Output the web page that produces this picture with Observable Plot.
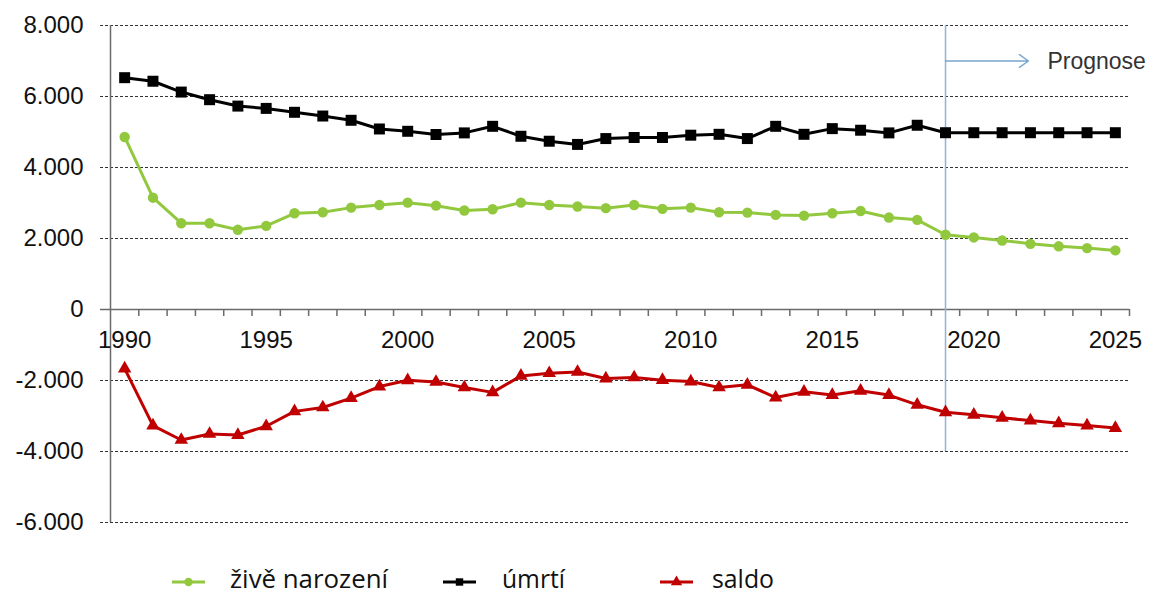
<!DOCTYPE html>
<html><head><meta charset="utf-8">
<script src="https://cdn.jsdelivr.net/npm/d3@7"></script>
<script src="https://cdn.jsdelivr.net/npm/@observablehq/plot@0.6"></script>
<style>
body{margin:0;background:#fff;}
#wrap{position:relative;width:1158px;height:596px;overflow:hidden;background:#fff;}
#legend{position:absolute;left:0;top:550px;}
</style></head><body>
<div id="wrap"><div id="chart"></div><svg id="legend" width="1158" height="46"></svg></div>
<script>
const years = [1990,1991,1992,1993,1994,1995,1996,1997,1998,1999,2000,2001,2002,2003,2004,2005,2006,2007,2008,2009,2010,2011,2012,2013,2014,2015,2016,2017,2018,2019,2020,2021,2022,2023,2024,2025];
const births = [4860,3150,2430,2430,2245,2355,2710,2740,2870,2945,3010,2925,2790,2825,3010,2945,2900,2855,2945,2835,2870,2740,2730,2665,2645,2710,2775,2590,2525,2105,2030,1945,1850,1780,1730,1665];
const deaths = [6530,6430,6125,5910,5730,5665,5555,5450,5330,5085,5020,4930,4975,5160,4880,4740,4650,4815,4845,4845,4910,4935,4815,5160,4935,5095,5050,4975,5190,4980,4980,4980,4980,4980,4980,4980];
const saldo = [-1665,-3270,-3675,-3505,-3535,-3290,-2870,-2760,-2495,-2170,-1995,-2040,-2195,-2335,-1870,-1795,-1760,-1945,-1915,-1990,-2030,-2195,-2120,-2480,-2320,-2410,-2290,-2410,-2685,-2895,-2965,-3050,-3130,-3205,-3270,-3340];
const yTicks = [-6000,-4000,-2000,0,2000,4000,6000,8000];
const xLabels = [1990,1995,2000,2005,2010,2015,2020,2025];
const seriesNames = ["živě narození","úmrtí","saldo"];
const forecastStart = 2019;
const forecastLabel = "Prognose";

const colors = {"živě narození":"#92c83e","úmrtí":"#000000","saldo":"#c00000"};
const symbols = {"živě narození":"circle","úmrtí":"square","saldo":"triangle"};
const radii = {"živě narození":5.2,"úmrtí":6.2,"saldo":5};

const rows = [];
[births, deaths, saldo].forEach((arr, k) => arr.forEach((v, i) => rows.push({year: years[i], value: v, series: seriesNames[k]})));

const boundaries = years.map(y => y - 0.5).concat([years[years.length-1] + 0.5]);
const fmt = d => d === 0 ? "0" : (d < 0 ? "-" : "") + d3.format(",")(Math.abs(d)).replace(/,/g, ".");
const gray = "#6a6a6a";

const marks = [
  Plot.ruleY(yTicks.filter(d => d !== 0), {y: d => d, stroke: "#333", strokeWidth: 1, strokeDasharray: "3,2", insetLeft: -10}),
  Plot.ruleY([0], {stroke: gray, strokeWidth: 1.5, insetLeft: -10}),
  Plot.ruleX([boundaries[0]], {x: d => d, y1: yTicks[0], y2: yTicks[yTicks.length-1], stroke: gray, strokeWidth: 1.5}),
  Plot.ruleX(boundaries.slice(1), {x: d => d, y1: 0, y2: 0, insetBottom: -7, stroke: gray, strokeWidth: 1.5}),
  Plot.text(xLabels, {x: d => d, y: 0, dy: 31, text: d => String(d), fontSize: 24, fill: "#111"}),
  Plot.ruleX([forecastStart], {x: d => d, y1: -4000, y2: 8000, stroke: "#8fb4d8", strokeWidth: 1.5}),
  Plot.arrow([forecastStart], {x1: d => d, x2: d => d + 2.93, y1: 7000, y2: 7000, stroke: "#7aa6d0", strokeWidth: 1.5, headLength: 11, headAngle: 70}),
  Plot.text([forecastLabel], {x: forecastStart + 3.6, y: 7000, text: d => d, textAnchor: "start", fontSize: 23, fill: "#333", dy: 1, style: "letter-spacing:1.8px"}),
];
for (const s of seriesNames) {
  const data = rows.filter(r => r.series === s);
  marks.push(Plot.line(data, {x: "year", y: "value", stroke: colors[s], strokeWidth: 3}));
  marks.push(Plot.dot(data, {x: "year", y: "value", fill: colors[s], stroke: "none", symbol: symbols[s], r: radii[s]}));
}

const chart = Plot.plot({
  width: 1158, height: 550,
  marginLeft: 110, marginRight: 29, marginTop: 25, marginBottom: 28,
  style: {fontFamily: "'Liberation Sans', Arial, sans-serif", fontSize: "24px", background: "#fff", color: "#111"},
  x: {type: "linear", domain: [boundaries[0], boundaries[boundaries.length-1]], axis: null},
  y: {domain: [yTicks[0], yTicks[yTicks.length-1]], ticks: yTicks, tickFormat: fmt, tickSize: 0, tickPadding: 27, label: null},
  marks
});
document.getElementById("chart").appendChild(chart);

// legend
const legendLayout = [{line: 172, text: 230, w: 158}, {line: 443, text: 502, w: 63}, {line: 660, text: 712, w: 62}];
const lg = d3.select("#legend");
seriesNames.forEach((s, i) => {
  const L = legendLayout[i];
  const g = lg.append("g");
  g.append("line").attr("x1", L.line).attr("x2", L.line + 33).attr("y1", 32).attr("y2", 32).attr("stroke", colors[s]).attr("stroke-width", 3);
  g.append("path").attr("d", d3.symbol(symbols[s] === "circle" ? d3.symbolCircle : symbols[s] === "square" ? d3.symbolSquare : d3.symbolTriangle, 55)()).attr("transform", `translate(${L.line + 16.5},32)`).attr("fill", colors[s]);
  g.append("text").attr("x", L.text).attr("y", 38).attr("font-family", "'Open Sans', sans-serif").attr("font-size", 25).attr("fill", "#111").attr("textLength", L.w).attr("lengthAdjust", "spacingAndGlyphs").text(s);
});
</script>
</body></html>
